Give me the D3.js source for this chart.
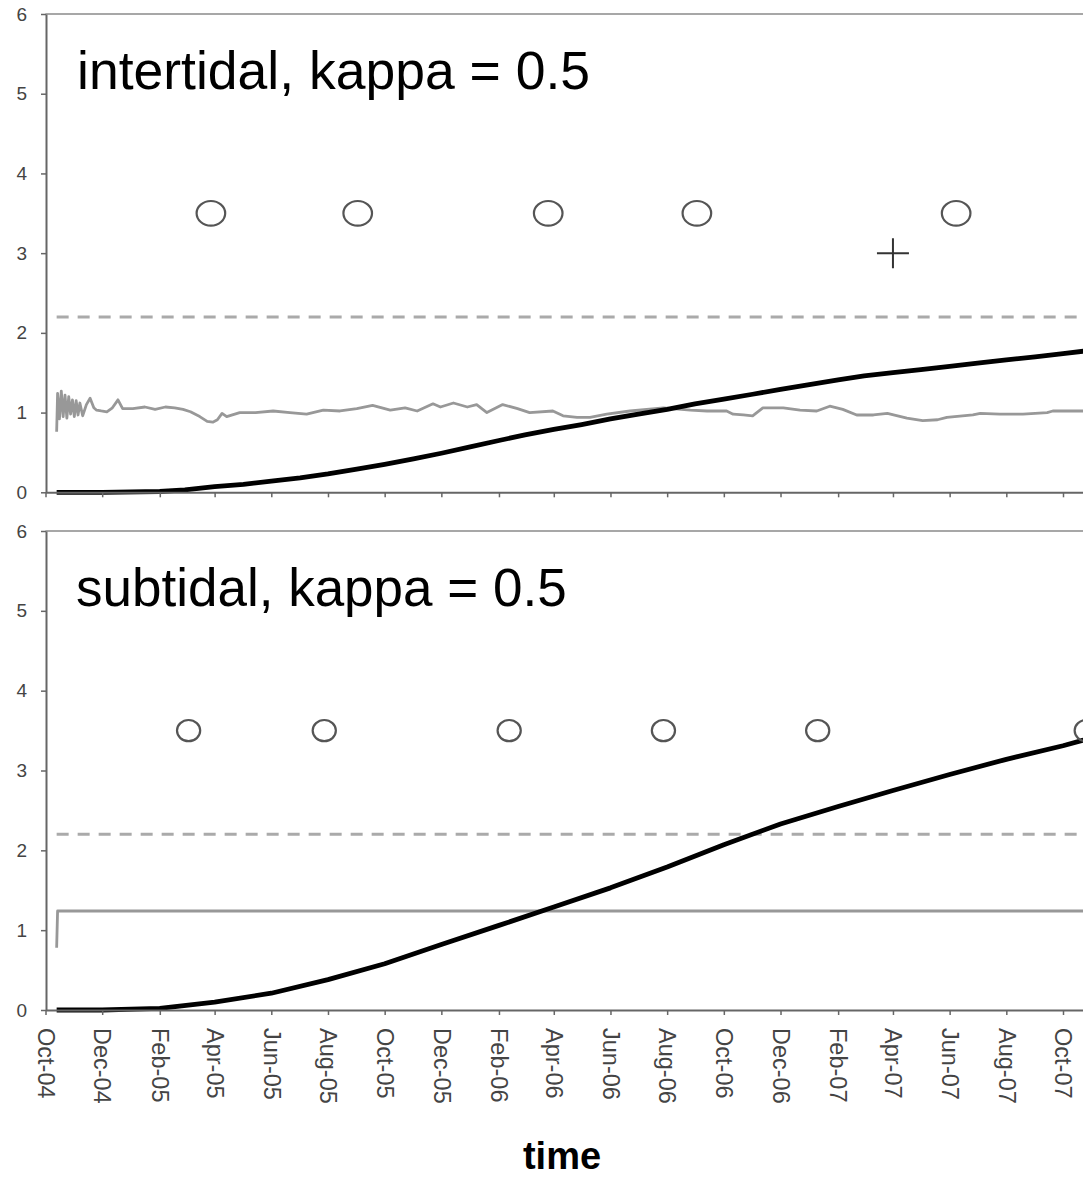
<!DOCTYPE html>
<html><head><meta charset="utf-8">
<script src="https://cdn.jsdelivr.net/npm/d3@7"></script>
<style>html,body{margin:0;padding:0;background:#fff;overflow:hidden}</style>
</head><body>
<svg id="chart" width="1083" height="1178"></svg>
<script>
// ---- data ----
const startDay = "2004-10-01";            // day offsets below are counted from this date
const tickLabels = ["Oct-04","Dec-04","Feb-05","Apr-05","Jun-05","Aug-05","Oct-05","Dec-05","Feb-06",
  "Apr-06","Jun-06","Aug-06","Oct-06","Dec-06","Feb-07","Apr-07","Jun-07","Aug-07","Oct-07"];
const yTicks = [0,1,2,3,4,5,6];
const panelTitles = ["intertidal, kappa = 0.5", "subtidal, kappa = 0.5"];
const axisTitle = "time";
const thresholdValue = 2.2;
const thresholdDays = [12, 1117];

// intertidal (top) panel
const topGrayDays = [12,13,15,17,19,21,23,25,27,29,31,33,35,37,40,44,48,52,55,60,66,72,78,83,94,107,118,129,139,148,156,166,174,180,185,190,195,209,226,245,263,281,299,317,335,352,371,387,400,417,425,439,454,464,475,492,508,521,546,557,572,586,604,629,665,694,712,733,740,751,761,772,794,812,830,844,858,873,891,906,927,944,960,970,998,1006,1027,1052,1078,1084,1117];
const topGrayVals = [0.76,1.24,0.92,1.27,0.95,1.22,0.93,1.2,0.98,1.16,0.95,1.15,0.97,1.12,0.96,1.1,1.18,1.06,1.03,1.02,1.01,1.06,1.16,1.05,1.05,1.07,1.04,1.07,1.06,1.04,1.01,0.95,0.89,0.88,0.91,0.99,0.95,1.0,1.0,1.02,1.0,0.98,1.03,1.02,1.05,1.09,1.03,1.06,1.02,1.11,1.07,1.12,1.07,1.1,1.0,1.1,1.05,1.0,1.02,0.96,0.94,0.94,0.98,1.02,1.06,1.03,1.02,1.02,0.98,0.97,0.96,1.06,1.06,1.03,1.02,1.08,1.04,0.97,0.97,0.99,0.93,0.9,0.91,0.94,0.97,0.99,0.98,0.98,1.0,1.02,1.02];
const topBlackDays = [12,61,123,150,182,213,243,274,304,335,365,396,426,457,488,516,547,577,608,638,669,699,730,761,791,822,853,881,912,942,973,1003,1034,1065,1095,1117];
const topBlackVals = [0,0,0.01,0.03,0.07,0.1,0.14,0.18,0.23,0.29,0.35,0.42,0.49,0.57,0.65,0.72,0.79,0.85,0.92,0.98,1.04,1.11,1.17,1.23,1.29,1.35,1.41,1.46,1.5,1.54,1.58,1.62,1.66,1.7,1.74,1.77];
const topCircleDays = [178,336,541,701,980];
const topCircleVals = [3.5,3.5,3.5,3.5,3.5];
const topCrossDays = [912];
const topCrossVals = [3.0];

// subtidal (bottom) panel
const botGrayDays = [12,13,1117];
const botGrayVals = [0.78,1.24,1.24];
const botBlackDays = [12,61,123,182,243,304,365,426,488,547,608,669,730,791,853,912,973,1034,1095,1117];
const botBlackVals = [0,0,0.02,0.1,0.21,0.38,0.58,0.82,1.06,1.29,1.53,1.79,2.07,2.33,2.55,2.75,2.95,3.14,3.31,3.38];
const botCircleDays = [154,300,499,665,831,1120];
const botCircleVals = [3.5,3.5,3.5,3.5,3.5,3.5];

// ---- drawing ----
const svg = d3.select("#chart");
const FONT = "'Liberation Sans', Arial, sans-serif";
const t0 = d3.utcParse("%Y-%m-%d")(startDay);
const day = d => d3.utcDay.offset(t0, d);
const parseTick = d3.utcParse("%b-%y");
const tickDates = tickLabels.map(parseTick);

const x = d3.scaleUtc()
  .domain([parseTick("Oct-04"), parseTick("Nov-07")])
  .range([45.5, 45.5 + 1126 * (1017.5 / 1095)]);

const panels = [
  {y0: 492.3, y6: 14, title: panelTitles[0], tx: 77, ty: 89, ts: 53.5,
   gray: [topGrayDays, topGrayVals], black: [topBlackDays, topBlackVals],
   circles: [topCircleDays, topCircleVals], rx: 14.3, ry: 12.3,
   cross: [topCrossDays, topCrossVals], labels: false},
  {y0: 1010, y6: 531, title: panelTitles[1], tx: 76, ty: 606, ts: 53,
   gray: [botGrayDays, botGrayVals], black: [botBlackDays, botBlackVals],
   circles: [botCircleDays, botCircleVals], rx: 11.6, ry: 10.6,
   cross: [[], []], labels: true}
];

const zip = (a, b) => a.map((d, i) => [d, b[i]]);

panels.forEach(p => {
  const y = d3.scaleLinear().domain([0, 6]).range([p.y0, p.y6]);
  const g = svg.append("g");

  // top border of the plot area
  g.append("line").attr("x1", x.range()[0]).attr("x2", 1083)
    .attr("y1", y(6)).attr("y2", y(6))
    .attr("stroke", "#8a8a8a").attr("stroke-width", 1.6);

  const line = d3.line().x(d => x(day(d[0]))).y(d => y(d[1]));

  // threshold dashed line
  g.append("path").datum(zip(thresholdDays, [thresholdValue, thresholdValue]))
    .attr("d", line).attr("fill", "none")
    .attr("stroke", "#aaaaaa").attr("stroke-width", 3).attr("stroke-dasharray", "12,9");

  // gray series
  g.append("path").datum(zip(p.gray[0], p.gray[1]))
    .attr("d", line).attr("fill", "none")
    .attr("stroke", "#989898").attr("stroke-width", 2.8).attr("stroke-linejoin", "round");

  // black cumulative series
  g.append("path").datum(zip(p.black[0], p.black[1]))
    .attr("d", line).attr("fill", "none")
    .attr("stroke", "#000").attr("stroke-width", 4.8).attr("stroke-linejoin", "round");

  // circle markers
  g.selectAll("ellipse.m").data(zip(p.circles[0], p.circles[1])).enter()
    .append("ellipse").attr("class", "m")
    .attr("cx", d => x(day(d[0]))).attr("cy", d => y(d[1]))
    .attr("rx", p.rx).attr("ry", p.ry)
    .attr("fill", "none").attr("stroke", "#555").attr("stroke-width", 2.2);

  // cross markers
  g.selectAll("path.cross").data(zip(p.cross[0], p.cross[1])).enter()
    .append("path").attr("class", "cross")
    .attr("d", d => {
      const cx = x(day(d[0])), cy = y(d[1]);
      return `M${cx-16},${cy}H${cx+16}M${cx},${cy-15}V${cy+15}`;
    })
    .attr("stroke", "#333").attr("stroke-width", 2);

  // y axis
  const ya = g.append("g").attr("transform", `translate(${x.range()[0] + 0.5},0)`)
    .call(d3.axisLeft(y).tickValues(yTicks).tickFormat(d3.format("d"))
      .tickSize(5).tickSizeOuter(0).tickPadding(14));
  ya.select(".domain").attr("stroke", "#666").attr("stroke-width", 2);
  ya.selectAll(".tick line").attr("stroke", "#666").attr("stroke-width", 1.5);
  ya.selectAll("text").attr("font-family", FONT).attr("font-size", 19).attr("fill", "#444");

  // x axis
  const xa = g.append("g").attr("transform", `translate(0,${y(0)})`)
    .call(d3.axisBottom(x).tickValues(tickDates).tickFormat((d, i) => tickLabels[i])
      .tickSize(5).tickSizeOuter(0));
  xa.select(".domain").attr("stroke", "#666").attr("stroke-width", 2);
  xa.selectAll(".tick line").attr("stroke", "#666").attr("stroke-width", 1.5);
  if (p.labels) {
    xa.selectAll("text")
      .attr("font-family", FONT).attr("font-size", 23.5).attr("fill", "#444")
      .attr("transform", "rotate(90)")
      .attr("x", 18).attr("y", 0).attr("dy", "0.35em")
      .style("text-anchor", "start");
  } else {
    xa.selectAll("text").remove();
  }

  // panel title
  svg.append("text").attr("x", p.tx).attr("y", p.ty)
    .attr("font-family", FONT).attr("font-size", p.ts).attr("fill", "#000")
    .text(p.title);
});

svg.append("text").attr("x", 562).attr("y", 1169)
  .attr("text-anchor", "middle").attr("font-family", FONT)
  .attr("font-size", 38).attr("font-weight", "bold").attr("fill", "#000")
  .text(axisTitle);
</script>
</body></html>
